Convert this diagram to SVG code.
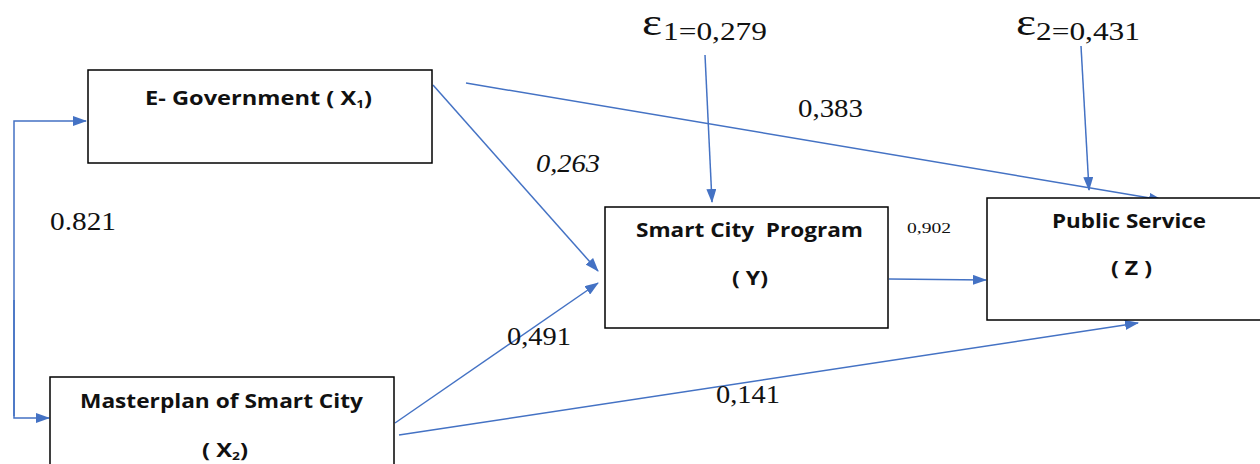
<svg xmlns="http://www.w3.org/2000/svg" width="1260" height="464" viewBox="0 0 1260 464">
<style>
.box{fill:#fff;stroke:#000;stroke-width:1.5}
.nt{font-family:"Open Sans","Liberation Sans",sans-serif;font-weight:bold;font-size:19px;fill:#111}
.lbl{font-family:"Liberation Serif",serif;font-size:25px;fill:#111}
.con{stroke:#4472C4;stroke-width:1.5;fill:none;marker-end:url(#ah)}
</style>
<defs>
<marker id="ah" markerWidth="14" markerHeight="10" refX="13" refY="5" orient="auto" markerUnits="userSpaceOnUse">
<path d="M0,0 L14,5 L0,10 Z" fill="#4472C4"/>
</marker>
</defs>
<rect width="1260" height="464" fill="#fff"/>
<g id="connectors">
<path class="con" d="M14,416 L14,121 L86,121"/>
<path class="con" d="M14,300 L14,418 L49,418"/>
<path class="con" d="M433,85 L598,271"/>
<path class="con" d="M466,83 L1162,200"/>
<path class="con" d="M705,55 L712,202"/>
<path class="con" d="M1081,46 L1089,190"/>
<path class="con" d="M889,279 L986,280"/>
<path class="con" d="M395,423 L598,283"/>
<path class="con" d="M399,435 L1138,323"/>
</g>
<g id="n-egov">
<rect class="box" x="88" y="70" width="344" height="93"/>
<text class="nt" x="145" y="105" textLength="227" lengthAdjust="spacingAndGlyphs">E- Government ( X<tspan style="font-size:11px" dy="3">1</tspan><tspan dy="-3">)</tspan></text>
</g>
<g id="n-master">
<rect class="box" x="50" y="377" width="344" height="100"/>
<text class="nt" x="80" y="408" textLength="283" lengthAdjust="spacingAndGlyphs">Masterplan of Smart City</text>
<text class="nt" x="202" y="457" textLength="46" lengthAdjust="spacingAndGlyphs">( X<tspan style="font-size:11px" dy="3">2</tspan><tspan dy="-3">)</tspan></text>
</g>
<g id="n-smart">
<rect class="box" x="605" y="207" width="283" height="121"/>
<text class="nt" x="636" y="237" textLength="227" lengthAdjust="spacingAndGlyphs" xml:space="preserve">Smart City  Program</text>
<text class="nt" x="732" y="285" textLength="36" lengthAdjust="spacingAndGlyphs">( Y)</text>
</g>
<g id="n-public">
<rect class="box" x="987" y="198" width="280" height="122"/>
<text class="nt" x="1052" y="228" textLength="154" lengthAdjust="spacingAndGlyphs">Public Service</text>
<text class="nt" x="1111" y="275" textLength="41" lengthAdjust="spacingAndGlyphs">( Z )</text>
</g>
<g id="labels">
<text class="lbl" x="642" y="35" textLength="20" lengthAdjust="spacingAndGlyphs" style="font-size:38px">ε</text>
<text class="lbl" x="663" y="40" textLength="104" lengthAdjust="spacingAndGlyphs">1=0,279</text>
<text class="lbl" x="1016" y="35" textLength="20" lengthAdjust="spacingAndGlyphs" style="font-size:38px">ε</text>
<text class="lbl" x="1036" y="40" textLength="104" lengthAdjust="spacingAndGlyphs">2=0,431</text>
<text class="lbl" x="798" y="117" textLength="65" lengthAdjust="spacingAndGlyphs">0,383</text>
<text class="lbl" x="536" y="172" textLength="64" lengthAdjust="spacingAndGlyphs" style="font-style:italic">0,263</text>
<text class="lbl" x="50" y="230" textLength="66" lengthAdjust="spacingAndGlyphs">0.821</text>
<text class="lbl" x="907" y="233" textLength="44" lengthAdjust="spacingAndGlyphs" style="font-size:15px">0,902</text>
<text class="lbl" x="507" y="345" textLength="64" lengthAdjust="spacingAndGlyphs">0,491</text>
<text class="lbl" x="716" y="403" textLength="64" lengthAdjust="spacingAndGlyphs">0,141</text>
</g>
</svg>
